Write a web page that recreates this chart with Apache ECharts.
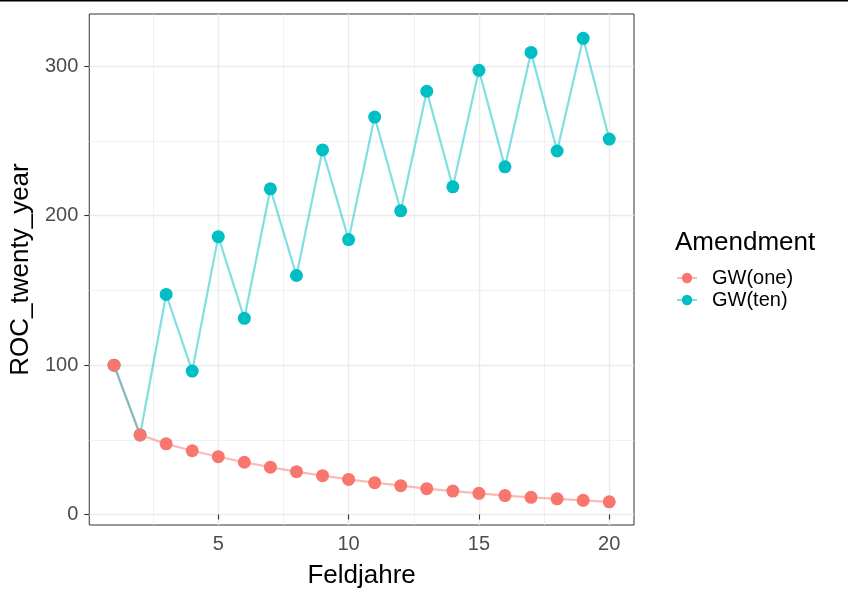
<!DOCTYPE html>
<html style="height: 100%">
<head>
  <meta charset="utf-8">
</head>
<body style="height: 100%; margin: 0; background: #fff">
  <div id="container" style="width: 848px; height: 601px"></div>

  <script type="text/javascript" src="https://cdn.jsdelivr.net/npm/echarts@6/dist/echarts.min.js"></script>
  <script type="text/javascript">
    var dom = document.getElementById("container");
    var myChart = echarts.init(dom);

    // Feldjahre 1..20
    const years = [1, 2, 3, 4, 5, 6, 7, 8, 9, 10, 11, 12, 13, 14, 15, 16, 17, 18, 19, 20];
    const gwOne = [100, 53.3, 47.3, 42.7, 38.7, 35, 31.7, 28.7, 26, 23.5, 21.3, 19.3, 17.3, 15.7, 14.2, 12.7, 11.5, 10.5, 9.5, 8.5];
    const gwTen = [100, 53.3, 147.3, 96, 186, 131.3, 218, 160, 244, 184, 266, 203.3, 283.3, 219.3, 297.3, 232.7, 309.3, 243.3, 318.7, 251.3];

    const xTicks = [5, 10, 15, 20];
    const xMinor = [2.5, 7.5, 12.5, 17.5];
    const yTicks = [0, 100, 200, 300];
    const yMinor = [50, 150, 250];

    const red = '#F8766D';
    const teal = '#00BFC4';
    const font = 'Liberation Sans, Arial, sans-serif';

    function pairs(vals) {
      return years.map(function (x, i) { return [x, vals[i]]; });
    }

    var gridLines = [];
    xTicks.forEach(function (v) { gridLines.push({ xAxis: v, lineStyle: { width: 1.4 } }); });
    xMinor.forEach(function (v) { gridLines.push({ xAxis: v, lineStyle: { width: 0.7 } }); });
    yTicks.forEach(function (v) { gridLines.push({ yAxis: v, lineStyle: { width: 1.4 } }); });
    yMinor.forEach(function (v) { gridLines.push({ yAxis: v, lineStyle: { width: 0.7 } }); });

    function lineSeries(name, vals, col, z) {
      return {
        name: name,
        type: 'line',
        data: pairs(vals),
        z: z,
        symbol: 'circle',
        symbolSize: 12,
        showSymbol: false,
        color: col,
        lineStyle: { color: col, width: 2.2, opacity: 0.5 },
        itemStyle: { color: col }
      };
    }
    function pointSeries(name, vals, col, z) {
      return {
        name: name,
        type: 'scatter',
        data: pairs(vals),
        z: z,
        symbol: 'circle',
        symbolSize: 13,
        color: col,
        itemStyle: { color: col, opacity: 1 }
      };
    }

    var option = {
      backgroundColor: '#ffffff',
      animation: false,
      textStyle: { fontFamily: font },
      grid: {
        left: 89, right: 214, top: 14, bottom: 76,
        show: true,
        borderColor: '#333333',
        borderWidth: 1,
        backgroundColor: '#ffffff'
      },
      title: {
        text: 'Amendment',
        left: 670,
        top: 225,
        textStyle: { fontFamily: font, fontSize: 26, fontWeight: 'normal', color: '#000' }
      },
      legend: {
        orient: 'vertical',
        left: 671,
        top: 263,
        itemWidth: 20,
        itemHeight: 13,
        itemGap: 2,
        textStyle: { fontFamily: font, fontSize: 20, color: '#000', padding: [0, 0, 0, 10] },
        data: ['GW(one)', 'GW(ten)']
      },
      xAxis: {
        type: 'value',
        min: 0.05,
        max: 20.95,
        name: 'Feldjahre',
        nameLocation: 'middle',
        nameGap: 38,
        nameTextStyle: { fontFamily: font, fontSize: 26, color: '#000' },
        axisLine: { show: false },
        axisTick: { show: true, customValues: xTicks, length: 5, lineStyle: { color: '#333333', width: 1.1 } },
        axisLabel: { customValues: xTicks, fontFamily: font, fontSize: 20, color: '#4D4D4D', margin: 9 },
        splitLine: { show: false }
      },
      yAxis: {
        type: 'value',
        min: -7,
        max: 335,
        name: 'ROC_twenty_year',
        nameLocation: 'middle',
        nameGap: 53,
        nameTextStyle: { fontFamily: font, fontSize: 26, color: '#000' },
        axisLine: { show: false },
        axisTick: { show: true, customValues: yTicks, length: 5, lineStyle: { color: '#333333', width: 1.1 } },
        axisLabel: { customValues: yTicks, fontFamily: font, fontSize: 20, color: '#4D4D4D', margin: 11 },
        splitLine: { show: false }
      },
      graphic: [{
        type: 'rect',
        shape: { x: 0, y: 0, width: 848, height: 1.5 },
        style: { fill: '#000' }
      }],
      series: [
        {
          name: 'grid',
          type: 'line',
          data: [],
          z: 0,
          silent: true,
          markLine: {
            z: 0,
            silent: true,
            animation: false,
            symbol: ['none', 'none'],
            label: { show: false },
            lineStyle: { color: '#EBEBEB', type: 'solid' },
            data: gridLines
          }
        },
        lineSeries('GW(one)', gwOne, red, 2),
        lineSeries('GW(ten)', gwTen, teal, 3),
        pointSeries('GW(ten)', gwTen, teal, 4),
        pointSeries('GW(one)', gwOne, red, 5)
      ]
    };

    myChart.setOption(option);
  </script>
</body>
</html>
